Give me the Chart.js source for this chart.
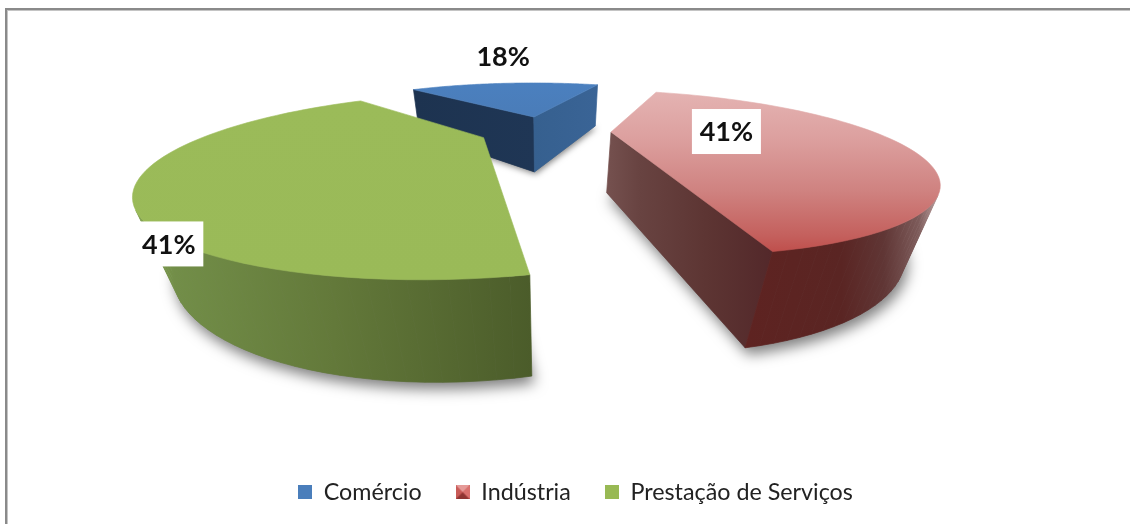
<!doctype html>
<html><head><meta charset="utf-8"><style>html,body{margin:0;padding:0;background:#fff}canvas{display:block}</style>
<script src="https://cdn.jsdelivr.net/npm/chart.js@4"></script></head>
<body><canvas id="c" width="1130" height="524"></canvas>
<script>
const categories = ['Comércio', 'Indústria', 'Prestação de Serviços'];
const shares = [18, 41, 41];
const legendColors = ['#4a7ebb', '#be4b48', '#98b954'];

// Camera that lays the pie's unit circle on the screen (fitted to the picture)
const VIEW = [15.58432, -374.0621, 545.1596, -0.8047769, -2.513526, 130.4291, -0.3280253, -0.3615645];
const EXPLODE = 0.2489, DEPTH = 0.07, DOWN = [545, 1050];
const LABEL_RADIUS = [2.75, 0.44, 1.0115], LABEL_TURN = [4, -7, -31.3];
const LABEL_BOX = [false, true, true];

const topFill = [
  [[0, '#4b80bf'], [1, '#4a7cb8']],
  [[0, '#e4b3b2'], [0.3, '#dc9f9e'], [0.62, '#cf8280'], [0.9, '#c4605d'], [1, '#bf4f4c']],
  [[0, '#9bbb59'], [1, '#9aba58']]
];
const startWall = [
  [[0, '#1d3350'], [1, '#1f3655']], null, null
];
const endWall = [
  [[0, '#36608f'], [1, '#3a6496']],
  [[0, '#75514f'], [0.2, '#684341'], [0.6, '#5d3533'], [1, '#53282a']],
  [[0, '#7c9a4c'], [1, '#7c9a4c']]
];
const arcWall = [
  [[0, '#36608f'], [1, '#3a6496']],
  [[0, '#5e2321'], [0.5, '#5a2523'], [0.72, '#603635'], [0.9, '#7d5b5a'], [1, '#b79b9a']],
  [[0, '#80a04e'], [0.1, '#728e48'], [0.5, '#63793a'], [1, '#4b5c2a']]
];

function homog(X, Y) {
  const h = VIEW;
  return [h[0]*X + h[1]*Y + h[2], h[3]*X + h[4]*Y + h[5], h[6]*X + h[7]*Y + 1];
}
function topPt(X, Y) { const p = homog(X, Y); return [p[0]/p[2], p[1]/p[2]]; }
function botPt(X, Y) {
  const p = homog(X, Y), w = p[2] + DEPTH;
  return [(p[0] + DEPTH*DOWN[0])/w, (p[1] + DEPTH*DOWN[1])/w];
}
function sliceOutline(arc) {
  const a = arc.startAngle, b = arc.endAngle, m = (a + b)/2;
  const ox = EXPLODE*Math.cos(m), oy = EXPLODE*Math.sin(m), pts = [[ox, oy]];
  const n = 72;
  for (let i = 0; i <= n; i++) {
    const t = a + (b - a)*i/n;
    pts.push([ox + Math.cos(t), oy + Math.sin(t)]);
  }
  return pts;
}
function poly(ctx, pts) {
  ctx.beginPath();
  pts.forEach((p, i) => i ? ctx.lineTo(p[0], p[1]) : ctx.moveTo(p[0], p[1]));
  ctx.closePath();
}
function grad(ctx, stops, pts, vertical) {
  const xs = pts.map(p => p[0]), ys = pts.map(p => p[1]);
  const g = vertical
    ? ctx.createLinearGradient(0, Math.min(...ys), 0, Math.max(...ys))
    : ctx.createLinearGradient(Math.min(...xs), 0, Math.max(...xs), 0);
  stops.forEach(s => g.addColorStop(s[0], s[1]));
  return g;
}
function area(q) {
  let s = 0;
  for (let i = 0; i < q.length; i++) {
    const a = q[i], b = q[(i + 1) % q.length];
    s += a[0]*b[1] - b[0]*a[1];
  }
  return s/2;
}
function paintQuads(ctx, quads, stops) {
  const vis = quads.filter(q => area(q) < 0);
  if (!vis.length || !stops) return;
  const g = grad(ctx, stops, vis.flat(), false);
  ctx.fillStyle = g; ctx.strokeStyle = g; ctx.lineWidth = 0.7;
  vis.forEach(q => { poly(ctx, q); ctx.fill(); ctx.stroke(); });
}

const pie3d = {
  id: 'pie3d',
  beforeDraw(chart) {
    const ctx = chart.ctx;
    ctx.save();
    ctx.fillStyle = '#fff'; ctx.fillRect(0, 0, chart.width, chart.height);
    ctx.fillStyle = '#c4c4c4'; ctx.fillRect(7, 10, chart.width, 1); ctx.fillRect(7, 10, 1, chart.height);
    ctx.fillStyle = '#8a8a8a'; ctx.fillRect(5, 8, chart.width, 2); ctx.fillRect(5, 8, 2, chart.height);
    ctx.restore();
  },
  beforeDatasetDraw(chart, args) {
    const ctx = chart.ctx, arcs = args.meta.data;
    ctx.save();
    arcs.forEach((arc, i) => {
      const pl = sliceOutline(arc), top = pl.map(p => topPt(p[0], p[1])), bot = pl.map(p => botPt(p[0], p[1]));
      // soft shadow on the floor
      ctx.save();
      ctx.shadowColor = 'rgba(0,0,0,0.5)';
      ctx.shadowBlur = i === 0 ? 6 : 14;
      ctx.shadowOffsetX = i === 0 ? 1 : 3;
      ctx.shadowOffsetY = i === 0 ? 2 : 7;
      ctx.fillStyle = '#777';
      poly(ctx, bot); ctx.fill();
      ctx.restore();
      // walls
      const n = pl.length;
      const quad = (j, k) => [top[j], top[k], bot[k], bot[j]];
      paintQuads(ctx, [quad(0, 1)], startWall[i]);
      paintQuads(ctx, [quad(n - 1, 0)], endWall[i]);
      const rim = [];
      for (let j = 1; j < n - 1; j++) rim.push(quad(j, j + 1));
      paintQuads(ctx, rim, arcWall[i]);
      // top face
      const g = grad(ctx, topFill[i], top, true);
      ctx.fillStyle = g; ctx.strokeStyle = g; ctx.lineWidth = 0.6;
      poly(ctx, top); ctx.fill(); ctx.stroke();
    });
    ctx.restore();
    return false;
  },
  afterDatasetsDraw(chart) {
    const ctx = chart.ctx, arcs = chart.getDatasetMeta(0).data, total = shares.reduce((a, b) => a + b, 0);
    ctx.save();
    ctx.font = '700 27px Lato';
    ctx.textAlign = 'center'; ctx.textBaseline = 'middle';
    arcs.forEach((arc, i) => {
      const m = (arc.startAngle + arc.endAngle)/2, d = m + LABEL_TURN[i]*Math.PI/180, r = LABEL_RADIUS[i];
      const p = topPt(EXPLODE*Math.cos(m) + r*Math.cos(d), EXPLODE*Math.sin(m) + r*Math.sin(d));
      if (LABEL_BOX[i]) {
        ctx.fillStyle = '#fff';
        ctx.fillRect(p[0] - 34.5, p[1] - 22.5, 69, 45);
      }
      ctx.fillStyle = '#111';
      ctx.fillText(Math.round(shares[i]/total*100) + '%', p[0], p[1] + 1);
    });
    ctx.restore();
  }
};

function swatch(i) {
  const s = 14, c = document.createElement('canvas');
  c.width = s; c.height = s;
  const x = c.getContext('2d');
  x.fillStyle = legendColors[i]; x.fillRect(0, 0, s, s);
  if (i === 1) {
    const tri = (pts, col) => { x.fillStyle = col; poly(x, pts); x.fill(); };
    tri([[0,0],[s,0],[s/2,s/2]], '#e59a98');
    tri([[s,0],[s,s],[s/2,s/2]], '#d9706d');
    tri([[0,0],[0,s],[s/2,s/2]], '#c85a57');
    tri([[0,s],[s,s],[s/2,s/2]], '#8f3533');
  }
  return c;
}

new Chart(document.getElementById('c'), {
  type: 'pie',
  data: { labels: categories, datasets: [{ data: shares, backgroundColor: legendColors, borderWidth: 0 }] },
  plugins: [pie3d],
  options: {
    responsive: false,
    animation: false,
    rotation: -85.888,
    layout: { padding: { left: 21, bottom: 10 } },
    plugins: {
      tooltip: { enabled: false },
      title: { display: false },
      legend: {
        position: 'bottom',
        labels: {
          color: '#222',
          font: { family: 'Lato', size: 23.3 },
          padding: 34,
          boxWidth: 14,
          boxHeight: 14,
          usePointStyle: true,
          generateLabels(chart) {
            return Chart.overrides.pie.plugins.legend.labels.generateLabels(chart).map((l, i) => {
              l.pointStyle = swatch(i); l.lineWidth = 0; return l;
            });
          }
        }
      }
    }
  }
});
</script></body></html>
